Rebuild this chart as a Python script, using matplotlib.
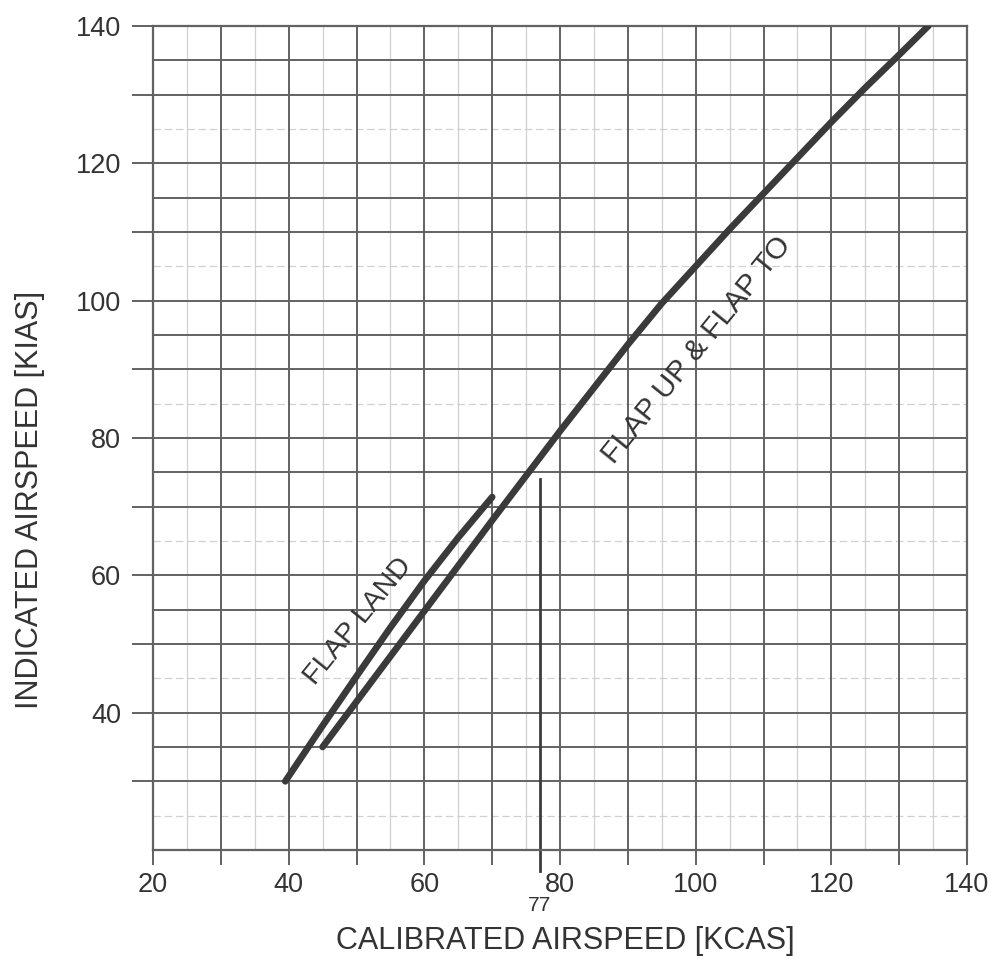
import numpy as np
import matplotlib
matplotlib.use("Agg")
import matplotlib.pyplot as plt

plt.rcParams['font.family'] = ['Liberation Sans', 'DejaVu Sans']

# flap up & flap TO curve (KCAS -> KIAS)
cas_up = [45, 50, 55, 60, 65, 70, 75, 80, 85, 90, 95, 100, 105, 110, 115, 120, 125, 130, 134.3]
ias_up = [35, 41.6, 48.2, 54.8, 61.4, 68, 74.5, 81, 87.3, 93.6, 99.6, 105, 110.4, 115.6, 120.8, 126, 131, 135.8, 140]

# flap land curve
cas_land = [39.5, 45, 50, 55, 60, 65, 70]
ias_land = [30, 38.1, 45.3, 52.4, 59.2, 65.5, 71.4]

x_ticks = list(range(20, 141, 10))
x_labels = [str(v) if v % 20 == 0 else "" for v in x_ticks]
y_ticks = list(range(30, 141, 10))
y_labels = [str(v) if v % 20 == 0 else "" for v in y_ticks]

marker_cas = 77

ink = "#333333"
grid_dark = "#626262"
grid_faint = "#d0d0d0"

fig = plt.figure(figsize=(10, 9.61), dpi=100)
ax = fig.add_axes([0.153, 0.1155, 0.814, 0.8575])
ax.set_xlim(20, 140)
ax.set_ylim(20, 140)

# graph paper grid
for v in np.arange(25, 140, 10):
    ax.axvline(v, color=grid_faint, lw=0.9, zorder=0)
for v in np.arange(30, 140, 10):
    ax.axvline(v, color=grid_dark, lw=1.4, zorder=1)
for v in np.arange(25, 140, 5):
    if v % 20 == 5:
        ax.axhline(v, color=grid_faint, lw=0.9, ls=(0, (6, 3)), zorder=0)
    else:
        ax.axhline(v, color=grid_dark, lw=1.4, zorder=1)

# 77 KCAS reference line
ax.plot([marker_cas, marker_cas], [74, 17], color="#3c3c3c", lw=2, clip_on=False, zorder=2)
ax.text(marker_cas, 13.3, "77", ha="center", va="top", fontsize=15, color=ink)

ax.plot(cas_up, ias_up, color="#3a3a3a", lw=4.8, solid_capstyle="round", zorder=3)
ax.plot(cas_land, ias_land, color="#3a3a3a", lw=4.8, solid_capstyle="round", zorder=3)

ax.text(50.3, 53.3, "FLAP LAND", rotation=51, ha="center", va="center",
        fontsize=20.5, color=ink, rotation_mode="anchor")
ax.text(100.2, 92.8, "FLAP UP & FLAP TO", rotation=51, ha="center", va="center",
        fontsize=21.5, color=ink, rotation_mode="anchor")

ax.set_xticks(x_ticks)
ax.set_xticklabels(x_labels)
ax.set_yticks(y_ticks)
ax.set_yticklabels(y_labels)
ax.tick_params(axis="x", direction="out", length=11, width=1.4, color=grid_dark,
               labelsize=19.5, labelcolor=ink, pad=5)
ax.tick_params(axis="y", direction="out", length=15, width=1.4, color=grid_dark,
               labelsize=19.5, labelcolor=ink, pad=8)
for s in ax.spines.values():
    s.set_color(grid_dark)
    s.set_linewidth(1.6)

ax.set_xlabel("CALIBRATED AIRSPEED [KCAS]", fontsize=22, color=ink)
ax.set_ylabel("INDICATED AIRSPEED [KIAS]", fontsize=22, color=ink)
ax.xaxis.set_label_coords(0.507, -0.092)
ax.yaxis.set_label_coords(-0.133, 0.425)

fig.savefig("out.png", dpi=100)
